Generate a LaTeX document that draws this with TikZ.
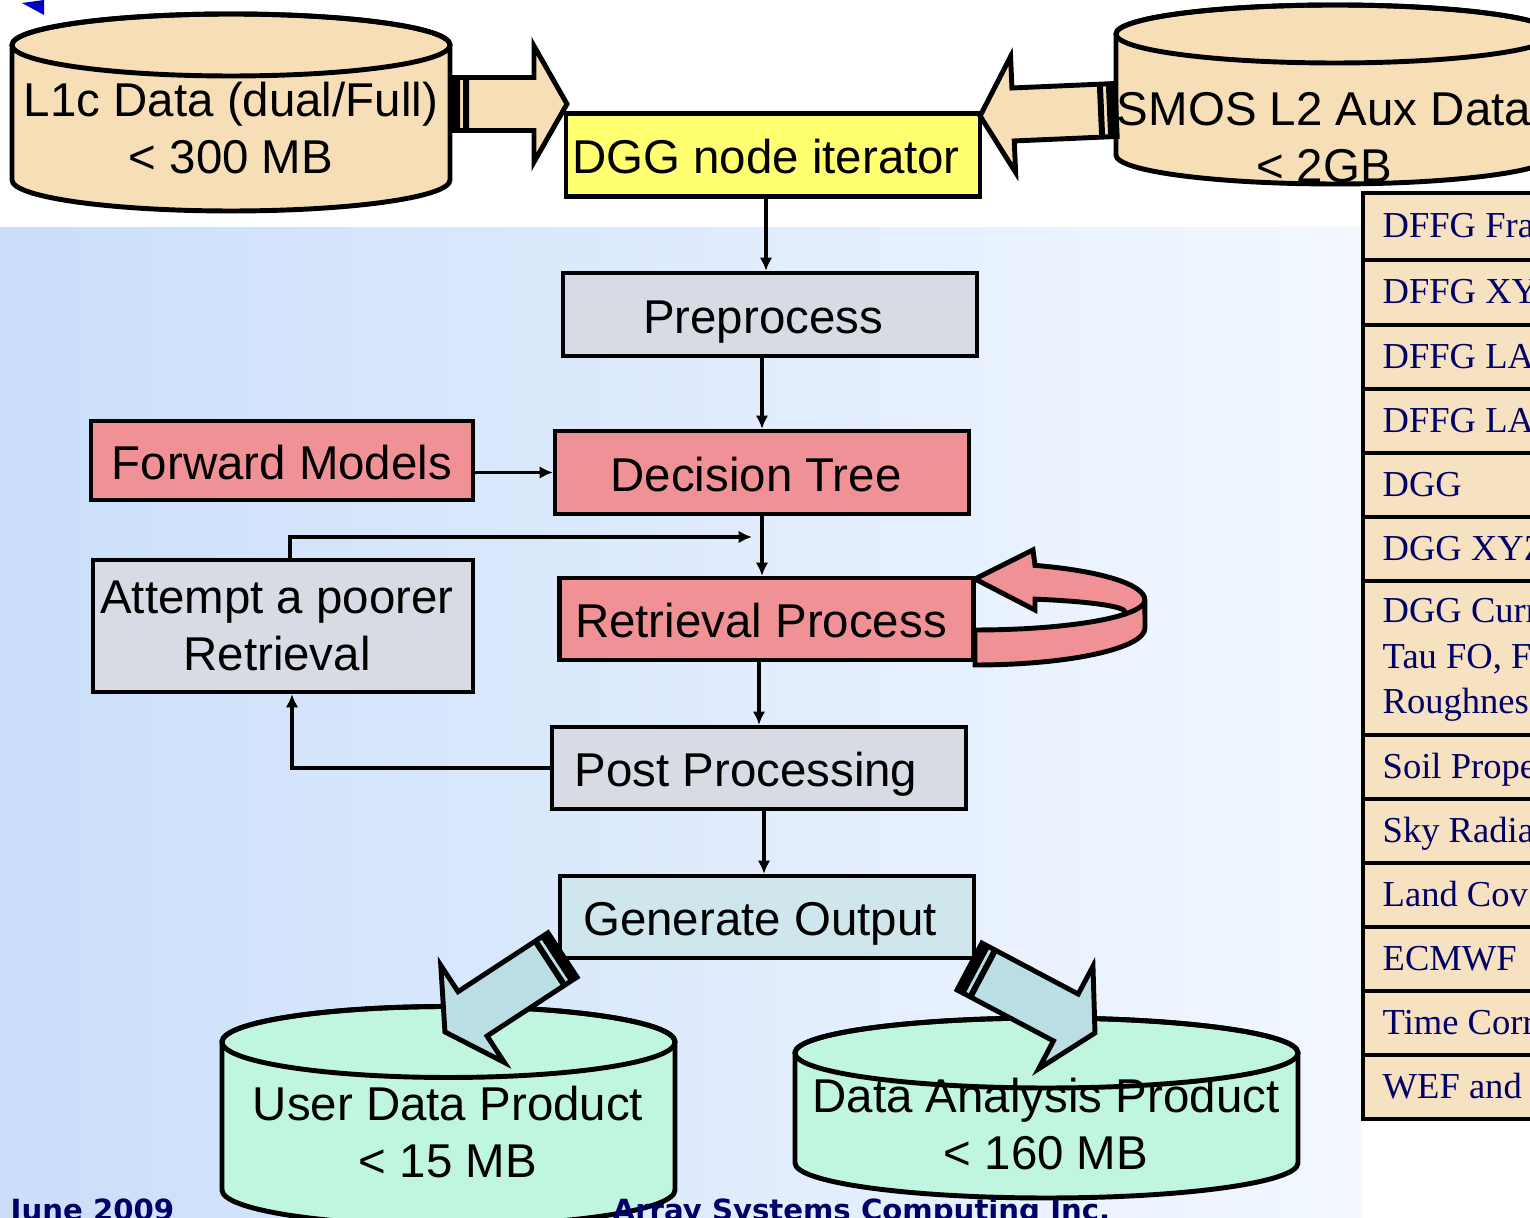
\documentclass[tikz,border=0pt]{standalone}
\usepackage{fontspec}
\setmainfont{Liberation Sans}
\newfontfamily\tabfont{Liberation Serif}
\newfontfamily\footfont{DejaVu Sans}
\usetikzlibrary{arrows.meta}

\definecolor{wheatc}{RGB}{246,223,183}
\definecolor{yellowc}{RGB}{255,255,112}
\definecolor{greyc}{RGB}{216,219,227}
\definecolor{pinkc}{RGB}{240,145,150}
\definecolor{genc}{RGB}{207,231,236}
\definecolor{arrowc}{RGB}{186,222,228}
\definecolor{mintc}{RGB}{192,246,224}
\definecolor{tablec}{RGB}{246,226,192}
\definecolor{navyc}{RGB}{0,0,102}
\definecolor{bgleft}{RGB}{202,222,250}
\definecolor{bgright}{RGB}{243,248,255}

\newcommand{\bigsans}{\fontsize{13.5}{16.2}\selectfont}

% cylinder: centre x, top y, bottom y, x radius, y radius, colour
\newcommand{\dbcyl}[6]{%
  \filldraw[fill=#6, line width=1.4pt] ({#1-#4},#2) -- ({#1-#4},#3)
    arc[start angle=180, end angle=360, x radius=#4, y radius=#5] -- ({#1+#4},#2)
    arc[start angle=0, end angle=180, x radius=#4, y radius=#5] -- cycle;
  \draw[line width=1.4pt] (#1,#2) ellipse[x radius=#4, y radius=#5];
}

\tikzset{
  box/.style={draw, line width=1.2pt, inner sep=0pt, minimum width=41.4mm,
              minimum height=8.3mm, font=\bigsans},
  onerow/.style={box, text height=10.8pt, text depth=0pt},
  nudge/.style={execute at begin node={\hspace*{-#1}}},
  dbtext/.style={align=center, inner sep=0pt, font=\bigsans},
  conn/.style={->, line width=1pt},
  cell/.style={anchor=base west, inner sep=0pt, text=navyc,
               font=\tabfont\fontsize{10.4}{12.5}\selectfont},
  foot/.style={anchor=base west, inner sep=0pt, text=navyc,
               font=\footfont\bfseries\fontsize{8.3}{10}\selectfont},
  sarrow/.pic={
    \filldraw[pic actions, line width=1.4pt] (0,-26.5) -- ({#1-33},-26.5)
      -- ({#1-33},-58) -- (#1,0) -- ({#1-33},58) -- ({#1-33},26.5)
      -- (0,26.5) -- cycle;
    \fill[black] (0,-26.5) rectangle (9,26.5) (12,-26.5) rectangle (18,26.5);
  }
}

\begin{document}
\begin{tikzpicture}[x=0.1mm, y=0.1mm, >={Latex[length=3.8pt, width=3.6pt]}]
  \useasboundingbox (0,0) rectangle (1530,-1218);

  % background
  \shade[left color=bgleft, right color=bgright] (0,-228) rectangle (1362,-1218);
  \fill[blue!60!navyc] (22,-3) -- (44,0) -- (44,-15) -- cycle;

  % data stores
  \dbcyl{231}{-45}{-180}{219}{31}{wheatc}
  \dbcyl{1335}{-34}{-155}{219}{29}{wheatc}
  \dbcyl{448.5}{-1042}{-1190}{226.5}{35.5}{mintc}
  \dbcyl{1046.5}{-1053}{-1163}{251.5}{35}{mintc}

  \node[dbtext] (l1c) at (231,-128) {L1c Data (dual/Full)\\< 300 MB};
  \node[dbtext] (aux) at (1324,-138) {SMOS L2 Aux Data\\< 2GB};
  \node[dbtext] (user) at (448,-1132) {User Data Product\\< 15 MB};
  \node[dbtext] (anal) at (1046,-1124) {Data Analysis Product\\< 160 MB};

  % process chain
  \node[onerow, fill=yellowc, nudge=1.4mm] (iter) at (773,-155) {DGG node iterator};
  \node[onerow, fill=greyc, nudge=1.4mm] (pre) at (770,-314.5) {Preprocess};
  \node[onerow, fill=pinkc, minimum width=38.2mm, minimum height=7.9mm] (fwd) at (282,-460.5) {Forward Models};
  \node[onerow, fill=pinkc, nudge=1.2mm] (dec) at (762,-472.5) {Decision Tree};
  \node[onerow, fill=pinkc, minimum height=8.2mm, nudge=1.1mm] (ret) at (766.5,-619) {Retrieval Process};
  \node[box, fill=greyc, minimum width=38mm, minimum height=13.2mm, align=center] (att) at (283,-626)
    {\hspace*{-1.2mm}Attempt a poorer\\\hspace*{-1.2mm}Retrieval};
  \node[onerow, fill=greyc, minimum height=8.2mm, nudge=2.6mm] (post) at (759,-768) {Post Processing};
  \node[onerow, fill=genc, minimum height=8.2mm, nudge=1.4mm] (gen) at (767,-917) {Generate Output};

  \coordinate (merge) at (762,-537);

  \draw[conn] ([xshift=-0.7mm]iter.south) -- ([xshift=-0.7mm]iter.south |- pre.north);
  \draw[conn] (pre.south -| dec.south) -- (dec.north);
  \draw[conn] (fwd.east |- dec.west) -- (dec.west);
  \draw[conn] (dec.south) -- (dec.south |- ret.north);
  \draw[conn] ([xshift=0.7mm]att.north) |- ([xshift=-1mm]merge);
  \draw[conn] (post.north |- ret.south) -- (post.north);
  \draw[conn] (post.west) -| ([xshift=0.9mm]att.south);
  \draw[conn] ([xshift=-0.3mm]gen.north |- post.south) -- ([xshift=-0.3mm]gen.north);

  % loop on the retrieval
  \filldraw[fill=pinkc, line width=1.4pt] (975,-579) -- (1033,-550) -- (1035,-565.4)
    arc[start angle=69.3, end angle=0, x radius=170, y radius=37] -- (1145,-628)
    arc[start angle=0, end angle=-90, x radius=170, y radius=37] -- (975,-630)
    arc[start angle=-90, end angle=-28.1, x radius=170, y radius=30] -- (1125,-612)
    arc[start angle=0, end angle=66.4, x radius=150, y radius=14] -- (1035,-610) -- cycle;
  \draw[line width=1.4pt] (1124.9,-614.1) arc[start angle=-28.1, end angle=0, x radius=170, y radius=30];

  % striped block arrows
  \pic[fill=wheatc] at (451,-104) {sarrow=116};
  \pic[fill=wheatc, rotate=182.5] at (1116,-110) {sarrow=136};
  \pic[fill=arrowc, rotate=213.2] at (562.5,-955) {sarrow=140.5};
  \pic[fill=arrowc, rotate=-27.9] at (969.5,-966.5) {sarrow=142};

  % aux file table
  \filldraw[fill=tablec, line width=1pt] (1363,-193) rectangle (1600,-1119);
  \foreach \y in {260,325,389,453,517,581,735,799,863,927,991,1055}
    \draw[line width=1pt] (1363,-\y) -- (1600,-\y);
  \foreach \y/\txt in {238/DFFG Fra, 304/DFFG XY, 369/DFFG LA, 433/DFFG LA,
                       497/DGG, 561/DGG XYZ, 779/Soil Prope, 843/Sky Radia,
                       907/Land Cov, 971/ECMWF, 1035/Time Corr, 1099/WEF and}
    \node[cell] (row\y) at (1382,-\y) {\txt};
  \node[cell] (cur1) at (1382,-623) {DGG Curr};
  \node[cell] (cur2) at (1382,-669) {Tau FO, F};
  \node[cell] (cur3) at (1382,-714) {Roughnes};

  % footer
  \node[foot] (date) at (10,-1221) {June 2009};
  \node[foot] (firm) at (612,-1221) {Array Systems Computing Inc.};
\end{tikzpicture}
\end{document}
